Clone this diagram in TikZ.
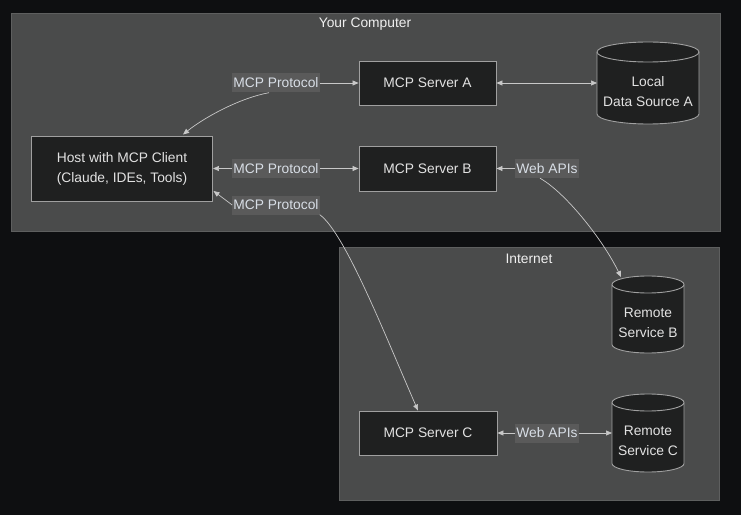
\documentclass[tikz,border=0pt]{standalone}
\usepackage{fontspec}
\setmainfont{Liberation Sans}
\usetikzlibrary{arrows.meta}
\definecolor{bgc}{HTML}{0E0F11}
\definecolor{clfill}{HTML}{4A4B4B}
\definecolor{cldraw}{HTML}{5E5F5F}
\definecolor{ndfill}{HTML}{1F2020}
\definecolor{nddraw}{HTML}{A0A0A0}
\definecolor{edgec}{HTML}{C8C8C8}
\definecolor{lblfill}{HTML}{5A5A5A}
\definecolor{txtc}{HTML}{E2E2E2}
\definecolor{lbltxt}{HTML}{D8DEE6}
\tikzset{
  x=1pt, y=1pt,
  every node/.style={font=\fontsize{13.8}{20}\selectfont, text=txtc},
  cluster/.style={fill=clfill, draw=cldraw, line width=0.8pt},
  ctitle/.style={text=white!94!black},
  server/.style={draw=nddraw, fill=ndfill, line width=0.9pt, minimum height=44pt, align=center, inner sep=0pt},
  cyltext/.style={align=center, inner sep=0pt},
  cylshape/.style={draw=nddraw, fill=ndfill, line width=0.9pt},
  lbl/.style={fill=lblfill, text=lbltxt, inner xsep=1pt, inner ysep=0pt, minimum height=19pt},
  tip/.style={-{Triangle[length=6pt,width=5pt]}},
  link/.style={draw=edgec, line width=0.7pt, color=edgec},
}
% cylinder: #1 centre x, #2 top y, #3 bottom y, #4 x radius, #5 y radius
\newcommand{\drumshape}[5]{%
  \path[cylshape] (#1-#4,#2-#5) -- (#1-#4,#3+#5)
    arc[start angle=180, end angle=360, x radius=#4, y radius=#5]
    -- (#1+#4,#2-#5)
    arc[start angle=0, end angle=180, x radius=#4, y radius=#5] -- cycle;
  \draw[draw=nddraw, line width=0.9pt] (#1-#4,#2-#5)
    arc[start angle=180, end angle=360, x radius=#4, y radius=#5];
}
\begin{document}
\begin{tikzpicture}
\fill[bgc] (0,0) rectangle (741,515);
\useasboundingbox (0,0) rectangle (741,515);

% groups
\draw[cluster] (11,284) rectangle (720,502);
\node[ctitle] (tcomp) at (365,490.5) {Your Computer};
\draw[cluster] (339,15) rectangle (719,268);
\node[ctitle] (tnet) at (529,256.5) {Internet};

% boxes
\node[server, minimum width=181pt, minimum height=65pt] (host) at (122,346.5)
  {Host with MCP Client\\(Claude, IDEs, Tools)};
\node[server, minimum width=137pt] (sa) at (427.5,432) {MCP Server A};
\node[server, minimum width=137pt, minimum height=45pt] (sb) at (427.5,346.5) {MCP Server B};
\node[server, minimum width=138pt] (sc) at (428,82) {MCP Server C};

% data stores
\drumshape{648}{473}{391}{51}{10}
\node[cyltext] (lda) at (648,423) {Local\\Data Source A};
\coordinate (ldaw) at (597,432);
\drumshape{648}{239}{162}{36}{8.5}
\node[cyltext] (rsb) at (648,192) {Remote\\Service B};
\coordinate (rsbt) at (621,238);
\drumshape{648}{121}{43}{36}{8.5}
\node[cyltext] (rsc) at (648,74) {Remote\\Service C};
\coordinate (rscw) at (612,82);

% edge labels
\node[lbl] (l1) at (276,432) {MCP Protocol};
\node[lbl] (l2) at (276,346.5) {MCP Protocol};
\node[lbl] (l3) at (276,310) {MCP Protocol};
\node[lbl] (l4) at (547,346.5) {Web APIs};
\node[lbl] (l5) at (547,82) {Web APIs};

% host <-> server A
\draw[link, tip] (l1.south -| 269,0) .. controls (240,417) and (205,398) .. (183,380.5);
\draw[link, tip] (l1.east) -- (sa.west);
% host <-> server B
\draw[link, tip] (l2.west) -- (host.east |- l2);
\draw[link, tip] (l2.east) -- (sb.west);
% host <-> server C
\coordinate (h3) at (213.5,324);
\draw[link, tip] (l3.west) -- (h3);
\draw[link, tip] (l3.south east) .. controls (345,282) and (385,180) .. (sc.north -| 418,0);
% server A <-> local data source
\draw[link, {Triangle[length=6pt,width=5pt]}-{Triangle[length=6pt,width=5pt]}] (sa.east) -- (ldaw);
% server B <-> remote service B
\draw[link, tip] (l4.west) -- (sb.east);
\draw[link, tip] (l4.south -| 540,0) .. controls (566,322) and (603,275) .. (rsbt);
% server C <-> remote service C
\draw[link, tip] (l5.west) -- (sc.east);
\draw[link, tip] (l5.east) -- (rscw);
\end{tikzpicture}
\end{document}
